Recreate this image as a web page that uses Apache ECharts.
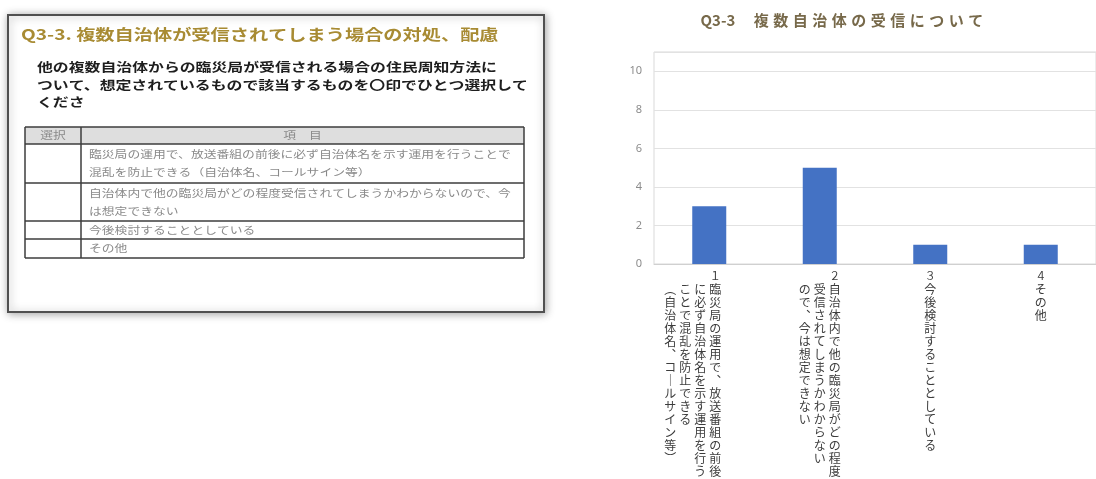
<!DOCTYPE html>
<html>
<head>
<meta charset="utf-8">
<script src="https://cdn.jsdelivr.net/npm/echarts@6/dist/echarts.min.js"></script>
<style>
html,body{margin:0;padding:0;background:#fff;}
#chart{width:1096px;height:479px;}
</style>
</head>
<body>
<div id="chart"></div>
<script>
// ---- chart data ----
const chartTitleCode = 'Q3-3';
const chartTitleText = '複数自治体の受信について';
const categories = [
  '1臨災局の運用で、放送番組の前後に必ず自治体名を示す運用を行うことで混乱を防止できる（自治体名、コールサイン等）',
  '2自治体内で他の臨災局がどの程度受信されてしまうかわからないので、今は想定できない',
  '3今後検討することとしている',
  '4その他'
];
const values = [3, 5, 1, 1];
// line breaks of the vertical category labels (first = rightmost column, digit removed)
const labelColumns = [
  ['臨災局の運用で、放送番組の前後', 'に必ず自治体名を示す運用を行う', 'ことで混乱を防止できる', '（自治体名、コールサイン等）'],
  ['自治体内で他の臨災局がどの程度', '受信されてしまうかわからない', 'ので、今は想定できない'],
  ['今後検討することとしている'],
  ['その他']
];

// ---- questionnaire slide data ----
const slideTitle = 'Q3-3. 複数自治体が受信されてしまう場合の対処、配慮';
const slideQuestion = [
  '他の複数自治体からの臨災局が受信される場合の住民周知方法に',
  'ついて、想定されているもので該当するものを〇印でひとつ選択して',
  'くださ'
];
const tableHeader = ['選択', '項　目'];
const tableRows = [
  ['臨災局の運用で、放送番組の前後に必ず自治体名を示す運用を行うことで', '混乱を防止できる（自治体名、コールサイン等）'],
  ['自治体内で他の臨災局がどの程度受信されてしまうかわからないので、今', 'は想定できない'],
  ['今後検討することとしている'],
  ['その他']
];

// ---- helpers ----
const CJK = '"Noto Sans CJK JP", "Noto Sans", sans-serif';
const VERT = {'、': '︑', '（': '︵', '）': '︶', 'ー': '｜', '。': '︒'};

function verticalLabel(value, index) {
  const cols = labelColumns[index];
  const n = cols.length;
  const d = value.charAt(0);
  const fw = String.fromCharCode(d.charCodeAt(0) + 0xFEE0);
  const rows = [];
  let r0 = '';
  for (let k = n - 1; k >= 0; k--) r0 += (k === 0 ? '{d|' + fw + '}' : '{d|　}');
  rows.push(r0);
  const maxLen = Math.max.apply(null, cols.map(c => c.length));
  for (let i = 0; i < maxLen; i++) {
    let r = '';
    for (let k = n - 1; k >= 0; k--) {
      const ch = cols[k][i];
      r += '{c|' + (ch ? (VERT[ch] || ch) : '　') + '}';
    }
    rows.push(r);
  }
  return rows.join('\n');
}

function spacedTitle() {
  let s = '{q|' + chartTitleCode + '}{g|　}';
  for (const ch of chartTitleText) s += '{t|' + ch + '}';
  return s;
}

// ---- slide graphic ----
const SX = 1.28;
const gfx = [];
gfx.push({
  type: 'rect', shape: {x: 8, y: 15, width: 536, height: 297},
  style: {fill: '#fff', stroke: '#505050', lineWidth: 2, shadowBlur: 8, shadowColor: 'rgba(0,0,0,0.35)', shadowOffsetX: 1, shadowOffsetY: 1}
});
gfx.push({
  type: 'text', x: 21, y: 34, scaleX: SX,
  style: {text: slideTitle, font: 'bold 15px ' + CJK, fill: '#a88b33', align: 'left', verticalAlign: 'middle'}
});
const qY = [67, 85, 102];
slideQuestion.forEach((t, i) => gfx.push({
  type: 'text', x: 37, y: qY[i], scaleX: SX,
  style: {text: t, font: 'bold 12.4px ' + CJK, fill: '#1e1e1e', align: 'left', verticalAlign: 'middle'}
}));
const tX0 = 25, tX1 = 81, tX2 = 524;
const tY = [127, 144, 183, 221, 239, 258];
gfx.push({type: 'rect', shape: {x: tX0, y: tY[0], width: tX2 - tX0, height: tY[1] - tY[0]}, style: {fill: '#dedede'}});
tY.forEach(y => gfx.push({type: 'line', shape: {x1: tX0, y1: y, x2: tX2, y2: y}, style: {stroke: '#3c3c3c', lineWidth: 1.5}}));
[tX0, tX1, tX2].forEach(x => gfx.push({type: 'line', shape: {x1: x, y1: tY[0], x2: x, y2: tY[tY.length - 1]}, style: {stroke: '#3c3c3c', lineWidth: 1.5}}));
gfx.push({type: 'text', x: (tX0 + tX1) / 2, y: 135.5, scaleX: SX,
  style: {text: tableHeader[0], font: '10px ' + CJK, fill: '#8a8a8a', align: 'center', verticalAlign: 'middle'}});
gfx.push({type: 'text', x: (tX1 + tX2) / 2, y: 135.5, scaleX: SX,
  style: {text: tableHeader[1], font: '10px ' + CJK, fill: '#8a8a8a', align: 'center', verticalAlign: 'middle'}});
tableRows.forEach((lines, r) => {
  const top = tY[r + 1], bot = tY[r + 2];
  const lh = 18;
  const start = (top + bot) / 2 - (lines.length - 1) * lh / 2;
  lines.forEach((t, j) => gfx.push({
    type: 'text', x: 89, y: start + j * lh, scaleX: SX,
    style: {text: t, font: '10px ' + CJK, fill: '#8a8a8a', align: 'left', verticalAlign: 'middle'}
  }));
});

// ---- chart ----
const chart = echarts.init(document.getElementById('chart'), null, {renderer: 'canvas'});
const option = {
  animation: false,
  backgroundColor: '#fff',
  title: {
    text: spacedTitle(),
    left: 838, top: 8, textAlign: 'center',
    textStyle: {
      fontFamily: CJK, fontSize: 15, fontWeight: 'bold', color: '#77694a',
      rich: {
        q: {fontFamily: CJK, fontSize: 15, fontWeight: 'bold', color: '#77694a', width: 38, align: 'left'},
        g: {fontSize: 15, width: 13},
        t: {fontFamily: CJK, fontSize: 15, fontWeight: 'bold', color: '#77694a', width: 19.5, align: 'center'}
      }
    }
  },
  grid: {
    left: 654, top: 52, right: -10, bottom: 215,
    containLabel: false, show: true, borderColor: '#d9d9d9', borderWidth: 1
  },
  xAxis: {
    type: 'category',
    data: categories.map((c, i) => i === 0 ? {value: c, textStyle: {padding: [0, 33, 0, 0]}} : c),
    axisLine: {lineStyle: {color: '#d0d0d0'}},
    axisTick: {show: false},
    axisLabel: {
      interval: 0, margin: 5, align: 'center', verticalAlign: 'top',
      formatter: verticalLabel,
      rich: {
        c: {fontFamily: CJK, fontSize: 12, lineHeight: 13, width: 15, align: 'center', color: '#3c3c3c'},
        d: {fontFamily: CJK, fontSize: 11, lineHeight: 14, width: 15, align: 'center', color: '#3c3c3c'}
      }
    }
  },
  yAxis: {
    type: 'value', min: 0, max: 11, interval: 2,
    axisLine: {show: false}, axisTick: {show: false},
    axisLabel: {color: '#8c8c8c', fontSize: 11, margin: 12, fontFamily: '"Noto Sans", sans-serif', showMaxLabel: false},
    splitLine: {lineStyle: {color: '#e2e2e2', width: 1}}
  },
  series: [{
    type: 'bar', data: values, barWidth: 34,
    itemStyle: {color: '#4472c4'}
  }],
  graphic: gfx
};
chart.setOption(option);
</script>
</body>
</html>
